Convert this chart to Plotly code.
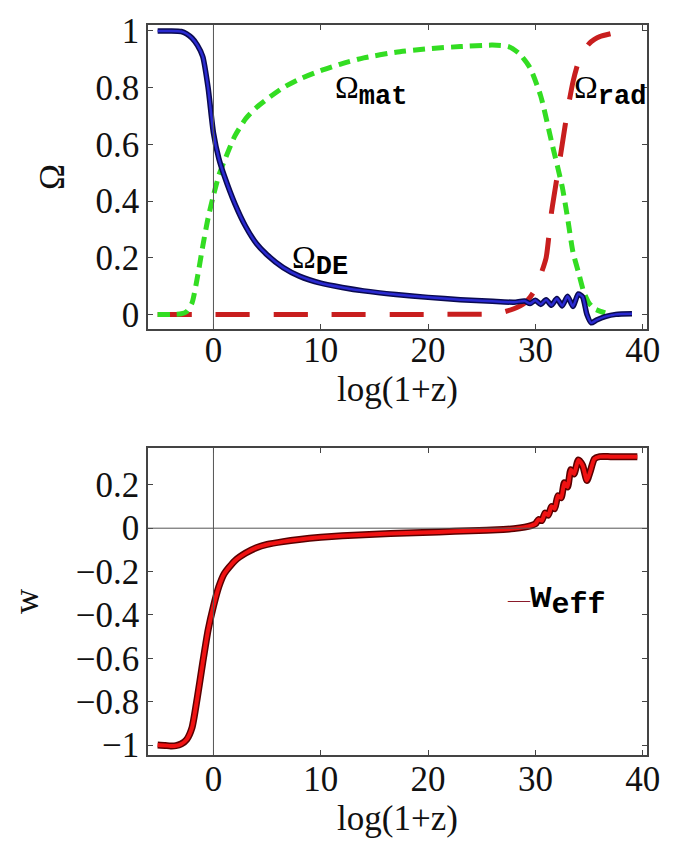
import plotly.graph_objects as go

# ---------------- data ----------------
de_x = [-5.2, -4, -3, -2.5, -2, -1.5, -1, -0.5, 0, 0.5, 1, 2, 3, 4, 5, 6.5, 8, 10, 12, 14, 17, 20, 23, 26, 28,
        29, 29.5, 30, 30.5, 31, 31.5, 32, 32.5, 33, 33.5, 34, 34.4, 34.8, 35.2, 35.7, 36.5, 37.5, 39]
de_y = [1, 1, 0.998, 0.99, 0.975, 0.95, 0.91, 0.8, 0.64, 0.55, 0.49, 0.39, 0.31, 0.25, 0.21, 0.165, 0.135, 0.11,
        0.095, 0.083, 0.07, 0.06, 0.052, 0.046, 0.043, 0.047, 0.038, 0.05, 0.035, 0.052, 0.032, 0.056, 0.03, 0.064,
        0.028, 0.072, 0.062, 0.0, -0.03, -0.02, -0.008, 0.0, 0.002]

mat_x = [-5.2, -4, -3, -2.5, -2, -1.5, -1, -0.5, 0, 0.5, 1, 2, 3, 4, 5, 6.5, 8, 10, 12, 14, 17, 20, 23, 26, 27.5,
         28.5, 29.5, 30.5, 31.5, 32.5, 33, 33.5, 34, 34.5, 35, 35.5, 36.5]
mat_y = [0, 0, 0.002, 0.01, 0.04, 0.13, 0.24, 0.34, 0.42, 0.49, 0.54, 0.63, 0.69, 0.73, 0.76, 0.8, 0.83, 0.86,
         0.885, 0.905, 0.925, 0.937, 0.945, 0.95, 0.945, 0.92, 0.87, 0.77, 0.61, 0.45, 0.34, 0.22, 0.15, 0.08,
         0.04, 0.02, 0.005]

rad_x = [-5.2, 0, 10, 20, 26, 27, 28, 29, 29.5, 30, 30.5, 31, 31.5, 32, 32.5, 33, 33.5, 34, 34.5, 35, 35.5, 36, 37]
rad_y = [0, 0, 0, 0, 0.002, 0.008, 0.02, 0.04, 0.06, 0.09, 0.14, 0.2, 0.36, 0.48, 0.6, 0.72, 0.82, 0.89, 0.93,
         0.955, 0.97, 0.98, 0.99]

w_x = [-5.2, -4.5, -4, -3.5, -3, -2.5, -2, -1.5, -1, -0.5, 0, 0.5, 1, 2, 3, 4, 5, 6.5, 8, 10, 12, 15, 18, 21, 24,
       27, 28, 29, 29.6, 30, 30.3, 30.6, 30.9, 31.2, 31.5, 31.8, 32.1, 32.4, 32.7, 33.0, 33.3, 33.6, 34.0, 34.4,
       34.8, 35.1, 35.5, 36, 37, 38, 39.5]
w_y = [-1, -1.002, -1.004, -1.003, -0.995, -0.975, -0.92, -0.78, -0.62, -0.47, -0.36, -0.27, -0.21, -0.15, -0.115,
       -0.09, -0.075, -0.062, -0.052, -0.042, -0.035, -0.028, -0.022, -0.017, -0.012, -0.006, -0.002, 0.005, 0.012,
       0.02, 0.04, 0.035, 0.07, 0.06, 0.1, 0.09, 0.15, 0.14, 0.21, 0.19, 0.27, 0.25, 0.315, 0.29, 0.22, 0.26, 0.32,
       0.33, 0.33, 0.33, 0.33]

x_ticks = [0, 10, 20, 30, 40]
top_yticks = [0, 0.2, 0.4, 0.6, 0.8, 1]
top_ytext = ["0", "0.2", "0.4", "0.6", "0.8", "1"]
bot_yticks = [-1, -0.8, -0.6, -0.4, -0.2, 0, 0.2]
bot_ytext = ["\u22121", "\u22120.8", "\u22120.6", "\u22120.4", "\u22120.2", "0", "0.2"]

SERIF = "Liberation Serif"
MONO = "Liberation Mono"
TICK = 35

fig = go.Figure()

# top panel
fig.add_trace(go.Scatter(x=rad_x, y=rad_y, mode="lines", xaxis="x", yaxis="y",
                         line=dict(color="#c81e1e", width=5, dash="34px,24px", shape="spline", smoothing=0.6)))
fig.add_trace(go.Scatter(x=mat_x, y=mat_y, mode="lines", xaxis="x", yaxis="y",
                         line=dict(color="#33dd22", width=5, dash="12px,7px", shape="spline", smoothing=0.6)))
fig.add_trace(go.Scatter(x=de_x, y=de_y, mode="lines", xaxis="x", yaxis="y",
                         line=dict(color="#0a0a50", width=5.5, shape="spline", smoothing=0.6)))
fig.add_trace(go.Scatter(x=de_x, y=de_y, mode="lines", xaxis="x", yaxis="y",
                         line=dict(color="#2a2ad0", width=2.5, shape="spline", smoothing=0.6)))

# bottom panel
fig.add_trace(go.Scatter(x=w_x, y=w_y, mode="lines", xaxis="x2", yaxis="y2",
                         line=dict(color="#5a0000", width=7, shape="spline", smoothing=0.6)))
fig.add_trace(go.Scatter(x=w_x, y=w_y, mode="lines", xaxis="x2", yaxis="y2",
                         line=dict(color="#f01212", width=4, shape="spline", smoothing=0.6)))

axis_common = dict(showline=True, mirror="allticks", linecolor="#444", linewidth=1.5,
                   ticks="inside", ticklen=5, tickcolor="#444", showgrid=False, zeroline=False,
                   tickfont=dict(family=SERIF, size=TICK, color="#111"))

xrange = [-6.1, 40.4]
title_font = dict(family=SERIF, size=35, color="#111")
fig.update_layout(
    width=684, height=846, showlegend=False,
    paper_bgcolor="white", plot_bgcolor="white",
    margin=dict(l=148, r=37, t=18, b=91),
    xaxis=dict(domain=[0, 1], anchor="y", range=xrange, tickvals=x_ticks, ticklabelstandoff=-11,
               title=dict(text="log(1+z)", font=title_font, standoff=2),
               **axis_common),
    yaxis=dict(domain=[0.5834, 1], anchor="x", range=[-0.052, 1.021], tickvals=top_yticks, ticktext=top_ytext,
               title=dict(text="\u03a9", font=title_font, standoff=20),
               **axis_common),
    xaxis2=dict(domain=[0, 1], anchor="y2", range=xrange, tickvals=x_ticks, ticklabelstandoff=-8,
                title=dict(text="log(1+z)", font=title_font, standoff=2),
                **axis_common),
    yaxis2=dict(domain=[0, 0.4206], anchor="x2", range=[-1.046, 0.37], tickvals=bot_yticks, ticktext=bot_ytext,
                title=dict(text="w", font=title_font, standoff=26),
                **axis_common),
)

# reference lines (x=0 in both, w=0 in bottom)
fig.add_shape(type="line", xref="x", yref="y domain", x0=0, x1=0, y0=0, y1=1, line=dict(color="#555", width=1))
fig.add_shape(type="line", xref="x2", yref="y2 domain", x0=0, x1=0, y0=0, y1=1, line=dict(color="#555", width=1))
fig.add_shape(type="line", xref="x2 domain", yref="y2", x0=0, x1=1, y0=0, y1=0, line=dict(color="#555", width=1))


def lab(base, sub, basesize=32, subsize=27):
    return (f"<span style='font-family:{SERIF};font-size:{basesize}px'>{base}</span>"
            f"<sub><span style='font-family:{MONO};font-weight:bold;font-size:{subsize}px'>{sub}</span></sub>")


ann = dict(showarrow=False, xanchor="left", yanchor="middle", font=dict(color="black", size=30, family=SERIF))
fig.add_annotation(x=11.1, y=0.79, xref="x", yref="y", text=lab("\u03a9", "mat"), **ann)
fig.add_annotation(x=33.4, y=0.79, xref="x", yref="y", text=lab("\u03a9", "rad"), **ann)
fig.add_annotation(x=7.1, y=0.19, xref="x", yref="y", text=lab("\u03a9", "DE"), **ann)
fig.add_annotation(x=27.2, y=-0.33, xref="x2", yref="y2",
                   text=("<span style='color:#8a1a2a;font-size:22px'>\u2014</span>"
                         f"<span style='font-family:{MONO};font-weight:bold;font-size:36px'>w</span>"
                         f"<sub><span style='font-family:{MONO};font-weight:bold;font-size:30px'>eff</span></sub>"),
                   **ann)

fig.write_html("out.html")
